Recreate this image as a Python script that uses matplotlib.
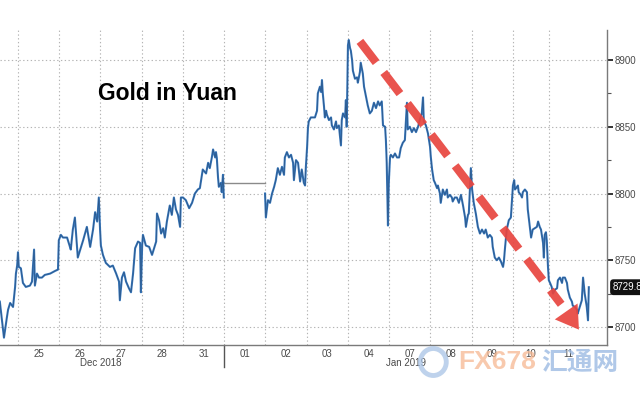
import matplotlib
matplotlib.use('Agg')
import matplotlib.pyplot as plt
import matplotlib.transforms as mtransforms
from matplotlib.patches import Ellipse
from matplotlib.ticker import FixedLocator, MultipleLocator

# Позиция по оси X - номер торговой сессии (24 дек = 0, 25 дек = 1, ...)
dec_t = [0.56, 0.66, 0.73, 0.76, 0.81, 0.88, 0.93, 0.95, 0.98, 1.00,
         1.02, 1.07, 1.12, 1.19, 1.29, 1.34, 1.39, 1.41, 1.46, 1.51,
         1.58, 1.65, 1.78, 1.90, 1.97, 1.99, 2.04, 2.09, 2.19, 2.26,
         2.28, 2.33, 2.38, 2.45, 2.58, 2.67, 2.75, 2.82, 2.87, 2.92,
         2.96, 2.99, 3.01, 3.06, 3.13, 3.23, 3.30, 3.38, 3.45, 3.47,
         3.52, 3.57, 3.62, 3.69, 3.74, 3.79, 3.84, 3.91, 3.96, 3.98,
         4.01, 4.03, 4.10, 4.18, 4.25, 4.30, 4.35, 4.37, 4.42, 4.47,
         4.52, 4.56, 4.61, 4.68, 4.73, 4.78, 4.83, 4.88, 4.93, 4.95,
         5.00, 5.07, 5.15, 5.22, 5.29, 5.36, 5.41, 5.48, 5.56, 5.61,
         5.65, 5.70, 5.73, 5.78, 5.80, 5.82, 5.85, 5.87, 5.92, 5.94,
         5.97, 5.99]
dec_p = [8719, 8692, 8707, 8713, 8718, 8715, 8730, 8740, 8746, 8756,
         8745, 8744, 8733, 8730, 8731, 8734, 8758, 8731, 8740, 8737,
         8737, 8739, 8740, 8742, 8743, 8765, 8769, 8767, 8767, 8760,
         8758, 8773, 8782, 8752, 8765, 8775, 8760, 8773, 8786, 8779,
         8797, 8773, 8761, 8754, 8748, 8745, 8746, 8740, 8734, 8720,
         8737, 8741, 8734, 8729, 8726, 8740, 8759, 8764, 8763, 8726,
         8761, 8769, 8761, 8760, 8754, 8759, 8764, 8785, 8780, 8770,
         8774, 8767, 8779, 8791, 8784, 8797, 8788, 8784, 8775, 8797,
         8797, 8795, 8789, 8793, 8800, 8803, 8804, 8818, 8815, 8823,
         8819, 8827, 8833, 8827, 8831, 8827, 8812, 8805, 8808, 8801,
         8814, 8797]

# Праздник 1 января - цена без изменений
holiday_t = [6.00, 6.99]
holiday_p = [8808, 8808]

jan_t = [6.99, 7.01, 7.06, 7.11, 7.16, 7.21, 7.25, 7.30, 7.35, 7.40,
         7.45, 7.47, 7.52, 7.57, 7.62, 7.67, 7.69, 7.74, 7.79, 7.84,
         7.88, 7.93, 7.96, 7.98, 8.01, 8.03, 8.05, 8.10, 8.15, 8.20,
         8.25, 8.27, 8.32, 8.35, 8.37, 8.39, 8.42, 8.44, 8.47, 8.49,
         8.54, 8.59, 8.61, 8.66, 8.71, 8.73, 8.78, 8.83, 8.85, 8.88,
         8.93, 8.95, 8.97, 9.00, 9.02, 9.05, 9.07, 9.10, 9.12, 9.17,
         9.22, 9.24, 9.29, 9.31, 9.36, 9.39, 9.44, 9.48, 9.53, 9.58,
         9.63, 9.68, 9.73, 9.77, 9.82, 9.85, 9.90, 9.92, 9.94, 9.97,
         9.99, 10.02, 10.04, 10.09, 10.14, 10.19, 10.24, 10.28, 10.33, 10.38,
         10.43, 10.45, 10.50, 10.55, 10.60, 10.65, 10.70, 10.74, 10.79, 10.82,
         10.84, 10.89, 10.94, 10.99, 11.01, 11.04, 11.06, 11.08, 11.11, 11.16,
         11.18, 11.23, 11.25, 11.30, 11.35, 11.40, 11.42, 11.47, 11.52, 11.54,
         11.59, 11.64, 11.69, 11.74, 11.79, 11.84, 11.86, 11.91, 11.93, 11.96,
         11.98, 12.01, 12.05, 12.10, 12.15, 12.20, 12.25, 12.30, 12.34, 12.39,
         12.44, 12.49, 12.51, 12.56, 12.61, 12.66, 12.71, 12.76, 12.78, 12.81,
         12.85, 12.90, 12.95, 12.98, 13.00, 13.03, 13.05, 13.10, 13.12, 13.14,
         13.19, 13.22, 13.24, 13.29, 13.34, 13.36, 13.41, 13.44, 13.48, 13.53,
         13.58, 13.61, 13.65, 13.68, 13.73, 13.75, 13.77, 13.80, 13.82, 13.85,
         13.87, 13.90, 13.94, 13.97, 14.02, 14.07, 14.09, 14.14, 14.19, 14.21,
         14.26, 14.31, 14.33, 14.38, 14.43, 14.45, 14.50, 14.55, 14.57, 14.62,
         14.67, 14.70, 14.74, 14.79, 14.82, 14.84]
jan_p = [8800, 8782, 8795, 8793, 8800, 8805, 8810, 8819, 8814, 8820,
         8814, 8827, 8831, 8827, 8829, 8823, 8810, 8825, 8823, 8809,
         8818, 8808, 8806, 8820, 8835, 8849, 8854, 8857, 8857, 8857,
         8862, 8875, 8880, 8876, 8885, 8875, 8865, 8857, 8862, 8859,
         8855, 8857, 8851, 8848, 8854, 8849, 8851, 8836, 8855, 8860,
         8857, 8870, 8850, 8911, 8915, 8909, 8907, 8900, 8892, 8886,
         8887, 8883, 8891, 8898, 8890, 8880, 8872, 8866, 8860, 8862,
         8868, 8864, 8869, 8866, 8869, 8851, 8850, 8840, 8823, 8776,
         8808, 8827, 8829, 8827, 8830, 8827, 8827, 8834, 8838, 8840,
         8868, 8848, 8850, 8846, 8849, 8846, 8850, 8855, 8860, 8872,
         8854, 8851, 8845, 8835, 8827, 8818, 8814, 8810, 8808, 8804,
         8806, 8800, 8793, 8803, 8799, 8803, 8797, 8799, 8797, 8794,
         8797, 8797, 8793, 8799, 8791, 8782, 8775, 8784, 8785, 8805,
         8819, 8803, 8793, 8785, 8775, 8770, 8773, 8770, 8773, 8767,
         8769, 8767, 8760, 8752, 8750, 8752, 8749, 8745, 8749, 8760,
         8773, 8780, 8782, 8797, 8806, 8810, 8803, 8805, 8806, 8801,
         8799, 8797, 8801, 8803, 8801, 8788, 8775, 8767, 8773, 8774,
         8775, 8779, 8775, 8773, 8763, 8752, 8769, 8771, 8765, 8745,
         8735, 8733, 8730, 8725, 8728, 8729, 8735, 8737, 8733, 8737,
         8737, 8733, 8728, 8722, 8719, 8716, 8715, 8713, 8710, 8715,
         8720, 8737, 8725, 8715, 8705, 8729.8]

last_price = 8729.8

# Границы торговых дней и подписи
day_bounds = [1, 2, 3, 4, 5, 6, 7, 8, 9, 10, 11, 12, 13, 13.88]
day_centers = [1.5, 2.5, 3.5, 4.5, 5.5, 6.5, 7.5, 8.5, 9.5, 10.5, 11.5, 12.5, 13.44, 14.35]
day_labels = ['25', '26', '27', '28', '31', '01', '02', '03', '04', '07', '08', '09', '10', '11']
month_pos = [3.0, 10.4]
month_labels = ['Dec 2018', 'Jan 2019']
year_break = 6.0

y_major = [8700, 8750, 8800, 8850, 8900]

# Стрелка тренда (начало, основание наконечника, острие)
arrow_start = (9.29, 8914)
arrow_base = (14.17, 8717)
arrow_tip = (14.6, 8698)

LINE_COLOR = '#3878bd'
GRID_COLOR = '#b4b4b4'
AXIS_COLOR = '#7a7a7a'
TEXT_COLOR = '#4a4a4a'
ARROW_COLOR = '#e8453f'
TICK_FONT = ['Liberation Sans', 'DejaVu Sans']
TICK_SIZE = 7


def main():
    fig = plt.figure(figsize=(6.4, 4.0), dpi=100)
    ax = fig.add_axes([0.0, 0.1375, 0.9484, 0.7875])
    ax.set_xlim(0.564, 15.28)
    ax.set_ylim(8686.5, 8922.5)

    # Сетка и подписи осей
    ax.xaxis.set_major_locator(FixedLocator(day_bounds))
    ax.xaxis.set_minor_locator(FixedLocator(day_centers))
    ax.xaxis.set_minor_formatter(plt.FixedFormatter(day_labels))
    ax.tick_params(axis='x', which='major', length=0, labelbottom=False)
    ax.tick_params(axis='x', which='minor', length=0, pad=3,
                   labelsize=TICK_SIZE, labelcolor=TEXT_COLOR)
    for lbl in ax.get_xticklabels(minor=True):
        lbl.set_family(TICK_FONT)

    ax.yaxis.tick_right()
    ax.yaxis.set_major_locator(FixedLocator(y_major))
    ax.yaxis.set_minor_locator(MultipleLocator(25))
    ax.tick_params(axis='y', which='major', length=4, width=1.4, color='#333333',
                   pad=1.5, labelsize=TICK_SIZE, labelcolor=TEXT_COLOR)
    ax.tick_params(axis='y', which='minor', length=3, width=0.8, color='#555555')
    for lbl in ax.get_yticklabels():
        lbl.set_family(TICK_FONT)

    ax.grid(True, which='major', color=GRID_COLOR, linestyle=(0, (1.2, 2.2)), linewidth=0.8)

    for side in ['left', 'top']:
        ax.spines[side].set_visible(False)
    for side in ['bottom', 'right']:
        ax.spines[side].set_color(AXIS_COLOR)
        ax.spines[side].set_linewidth(1.0)

    # Цена
    ax.plot(holiday_t, holiday_p, color='#8a8a8a', linewidth=1.0, zorder=3)
    for t, p in [(dec_t, dec_p), (jan_t, jan_p)]:
        ax.plot(t, p, color=LINE_COLOR, linewidth=1.5, zorder=3)
        ax.plot(t, p, color='#1c2c44', linewidth=0.5, alpha=0.45, zorder=4)

    # Граница года и подписи месяцев
    ax.axvline(year_break, ymin=-0.07, ymax=0, color='#555555', linewidth=1.0, clip_on=False)
    xtrans = ax.get_xaxis_transform()
    for pos, text in zip(month_pos, month_labels):
        ax.text(pos, -0.057, text, transform=xtrans, ha='center', va='center',
                fontsize=TICK_SIZE, color=TEXT_COLOR, family=TICK_FONT)

    # Последнее значение
    ytrans = mtransforms.blended_transform_factory(ax.transAxes, ax.transData)
    ax.text(1.01, last_price, f'{last_price:.1f}', transform=ytrans, ha='left', va='center',
            fontsize=TICK_SIZE, color='white', family=TICK_FONT, clip_on=False,
            bbox=dict(boxstyle='round,pad=0.3,rounding_size=0.35', fc='#111111', ec='none'))

    # Красная пунктирная стрелка
    ax.plot([arrow_start[0], arrow_base[0]], [arrow_start[1], arrow_base[1]],
            color=ARROW_COLOR, linewidth=6, dashes=(3.2, 1.5), solid_capstyle='butt',
            dash_capstyle='butt', alpha=0.92, zorder=5)
    ax.annotate('', xy=arrow_tip, xytext=arrow_base,
                arrowprops=dict(arrowstyle='-|>,head_length=1.6,head_width=1.0',
                                color=ARROW_COLOR, lw=0, alpha=0.92, shrinkA=0, shrinkB=0),
                zorder=5)

    # Заголовок
    fig.text(0.153, 0.75, 'Gold in Yuan', fontsize=16.5, fontweight='bold',
             family=['Liberation Sans', 'DejaVu Sans'], color='black', va='baseline')

    # Водяной знак
    fig.patches.append(Ellipse((0.677, 0.095), 26 / 640, 27 / 400, transform=fig.transFigure,
                               fill=False, ec='#a9c4e6', lw=3.5, alpha=0.75))
    fig.text(0.716, 0.094, 'FX678', fontsize=19, fontweight='bold', color='#f6b892',
             alpha=0.75, family=['Liberation Sans', 'DejaVu Sans'], va='center', ha='left')
    fig.text(0.846, 0.094, '汇通网', fontsize=18.5, fontweight='bold', color='#9dbbe3',
             alpha=0.8, family=['Noto Sans CJK SC', 'DejaVu Sans'], va='center', ha='left')

    fig.savefig('out.png', dpi=100)
    plt.close(fig)


if __name__ == '__main__':
    main()
